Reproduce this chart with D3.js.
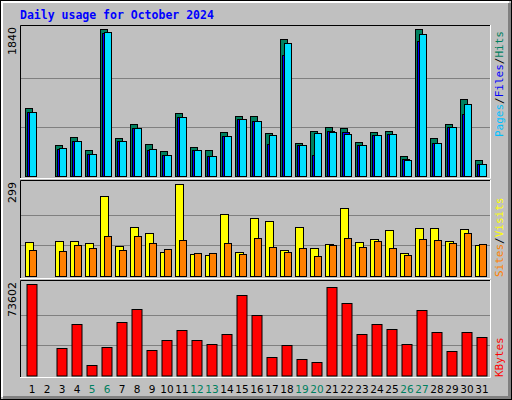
<!DOCTYPE html>
<html><head><meta charset="utf-8">
<script src="https://cdn.jsdelivr.net/npm/d3@7"></script>
<style>body{margin:0;background:#fff}</style>
</head><body><div id="chart"></div>
<script>
const days = d3.range(1, 32);
const weekend = [5, 6, 12, 13, 19, 20, 26, 27];
const hits  = [849,0,385,485,322,1840,472,648,397,309,786,359,322,548,748,748,535,1714,410,560,610,598,422,548,560,247,1840,472,648,961,196];
const files = [798,0,334,435,272,1789,435,598,322,259,736,322,247,497,711,686,397,1513,385,259,560,548,385,510,523,209,1689,410,610,773,146];
const pages = [798,0,347,435,272,1802,435,598,334,259,736,322,247,497,711,686,510,1664,385,535,548,523,385,510,523,196,1777,410,610,899,146];
const visits = [110,0,113,113,107,260,97,159,139,77,299,71,67,201,77,188,178,84,159,90,103,221,110,120,149,74,155,155,113,152,100];
const sites  = [84,0,80,100,90,129,84,129,107,87,116,74,74,107,71,123,93,77,90,64,100,123,93,113,90,67,120,116,107,139,103];
const kbytes = [73602,0,22025,41364,8327,22831,42976,53451,20414,28472,36530,28472,25248,33306,64733,48617,14773,24443,13161,10744,71179,58286,33306,41364,37335,25248,52646,34918,19608,34918,30889];

const W = 512, H = 400;
const svg = d3.select("#chart").append("svg").attr("width", W).attr("height", H)
  .style("font-family", "DejaVu Sans Mono");

// frame
svg.append("rect").attr("x", 0.5).attr("y", 0.5).attr("width", W - 1).attr("height", H - 1)
  .attr("fill", "#c0c0c0").attr("stroke", "#000");
svg.append("path").attr("d", `M2,${H-3}V2H${W-3}`).attr("fill", "none").attr("stroke", "#fff").attr("stroke-width", 2);
svg.append("path").attr("d", `M3,${H-2.5}H${W-2.5}V3`).attr("fill", "none").attr("stroke", "#808080").attr("stroke-width", 3);

svg.append("text").attr("x", 20).attr("y", 19).attr("fill", "#0000ff")
  .attr("font-size", 11.5).attr("font-weight", "bold").text("Daily usage for October 2024");

const x = d3.scaleBand().domain(days).range([23, 488]);

function panel(y0, y1, base, max, label) {
  svg.append("rect").attr("x", 20).attr("y", y0).attr("width", 471).attr("height", y1 - y0).attr("fill", "#c0c0c0");
  svg.append("path").attr("d", `M20.5,${y1}V${y0 + 0.5}H491`).attr("fill", "none").attr("stroke", "#000");
  svg.append("path").attr("d", `M20,${y1 - 0.5}H490.5V${y0}`).attr("fill", "none").attr("stroke", "#fff");
  const y = d3.scaleLinear().domain([0, max]).range([base, y0 + 4]);
  [max / 3, max * 2 / 3].forEach(v => {
    svg.append("line").attr("x1", 21).attr("x2", 490).attr("y1", Math.round(y(v)) + 0.5).attr("y2", Math.round(y(v)) + 0.5)
      .attr("stroke", "#808080");
  });
  svg.append("text").attr("transform", `translate(16,${y0 + 2}) rotate(-90)`).attr("text-anchor", "end")
    .attr("font-size", 11).attr("fill", "#000").attr("font-family", "DejaVu Sans").text(label);
  return y;
}

function bars(y, data, dx, w, color) {
  svg.append("g").selectAll("rect").data(data.map((v, i) => ({ d: days[i], v })).filter(d => d.v > 0))
    .join("rect")
    .attr("x", d => x(d.d) + dx + 0.5).attr("y", d => Math.round(y(d.v)) + 0.5)
    .attr("width", w).attr("height", d => y(0) - Math.round(y(d.v)))
    .attr("fill", color).attr("stroke", "#000");
}

const y1 = panel(25, 179, 176, 1840, "1840");
bars(y1, hits, 2, 7, "#00805f");
bars(y1, files, 4, 7, "#0000ff");
bars(y1, pages, 6, 7, "#00e0ff");

const y2 = panel(180, 279, 276, 299, "299");
bars(y2, visits, 2, 8, "#ffff00");
bars(y2, sites, 6, 7, "#ff8000");

const y3 = panel(280, 378, 375.5, 73602, "73602");
bars(y3, kbytes, 3.5, 10, "#ff0000");

// day labels
svg.append("g").selectAll("text").data(days).join("text")
  .attr("x", d => x(d) + 9).attr("y", 393).attr("text-anchor", "middle")
  .attr("font-size", 10.5).attr("font-family", "DejaVu Sans")
  .attr("fill", d => weekend.includes(d) ? "#00805f" : "#000").text(d => d);

// right legends
function legend(yEnd, parts) {
  const t = svg.append("text").attr("transform", `translate(503,${yEnd}) rotate(-90)`)
    .attr("font-size", 11);
  parts.forEach(([s, c]) => t.append("tspan").attr("fill", c).text(s));
}
legend(137, [["Pages", "#00c0ff"], ["/", "#000"], ["Files", "#0000ff"], ["/", "#000"], ["Hits", "#00805f"]]);
legend(277, [["Sites", "#ff8000"], ["/", "#000"], ["Visits", "#ffff00"]]);
legend(377, [["KBytes", "#ff0000"]]);
</script></body></html>
